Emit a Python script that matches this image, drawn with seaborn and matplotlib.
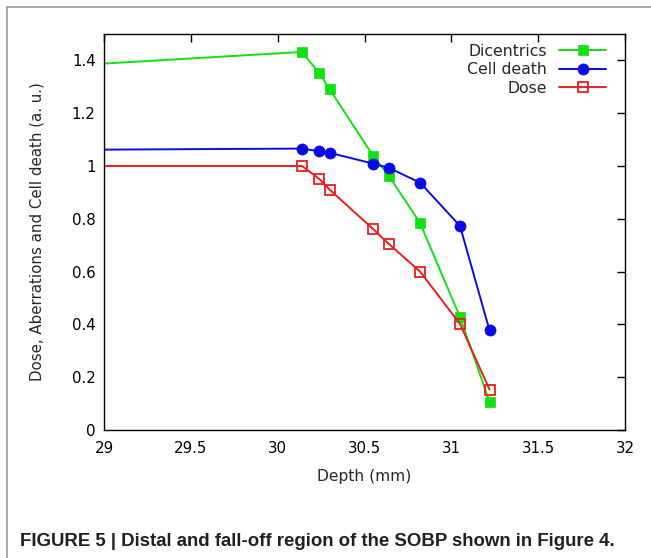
import numpy as np
import pandas as pd
import matplotlib.pyplot as plt
import seaborn as sns
from matplotlib.lines import Line2D
from matplotlib.ticker import FuncFormatter

# values
depth = [29.0, 30.14, 30.24, 30.30, 30.55, 30.64, 30.82, 31.05, 31.22]
dicentrics = [1.388, 1.432, 1.352, 1.290, 1.038, 0.963, 0.784, 0.428, 0.106]
cell_death = [1.062, 1.066, 1.056, 1.050, 1.009, 0.993, 0.937, 0.773, 0.377]
dose = [1.000, 1.000, 0.951, 0.910, 0.761, 0.705, 0.600, 0.402, 0.153]

series = ["Dicentrics", "Cell death", "Dose"]
colors = {"Dicentrics": "#11e011", "Cell death": "#0a0ae6", "Dose": "#ee1c1c"}

df = pd.DataFrame({"Depth": depth * 3,
                   "Value": dicentrics + cell_death + dose,
                   "Series": np.repeat(series, len(depth))})

sns.set_style("white")
plt.rcParams['font.family'] = ['DejaVu Sans']

fig = plt.figure(figsize=(6.51, 5.58), dpi=100)
ax = fig.add_axes([104 / 651, 1 - 430 / 558, 521 / 651, 396 / 558])

style = {
    "Dicentrics": dict(marker="s", markersize=7.5, markerfacecolor=colors["Dicentrics"],
                       markeredgecolor=colors["Dicentrics"], markeredgewidth=0.5),
    "Cell death": dict(marker="o", markersize=8, markerfacecolor=colors["Cell death"],
                       markeredgecolor=colors["Cell death"], markeredgewidth=0.5),
    "Dose": dict(marker="s", markersize=7, markerfacecolor="none",
                 markeredgecolor=colors["Dose"], markeredgewidth=1.3),
}
for s in series:
    sns.lineplot(data=df[df["Series"] == s], x="Depth", y="Value", ax=ax,
                 color=colors[s], linewidth=1.4, label=s,
                 markevery=slice(1, None), **style[s])

ax.set_xlim(29, 32)
ax.set_ylim(0, 1.5)
ax.set_xticks(np.arange(29, 32.01, 0.5))
ax.set_yticks(np.arange(0, 1.41, 0.2))
ax.xaxis.set_major_formatter(FuncFormatter(lambda v, p: f"{v:g}"))
ax.yaxis.set_major_formatter(FuncFormatter(lambda v, p: f"{round(v, 1):g}"))
ax.tick_params(direction="in", length=6, width=1, top=True, right=True,
               labelsize=10.8, colors="black", pad=6)
ax.tick_params(axis="x", pad=8)
for sp in ax.spines.values():
    sp.set_color("black")
    sp.set_linewidth(1)

ax.set_xlabel("Depth (mm)", fontsize=11.2, labelpad=9)
ax.set_ylabel("Dose, Aberrations and Cell death (a. u.)", fontsize=10.8, labelpad=20)

leg = ax.legend(loc="upper right", bbox_to_anchor=(0.964, 0.975), frameon=False,
                markerfirst=False, fontsize=11.3, handlelength=3.0, handletextpad=0.76,
                labelspacing=0.22, borderpad=0, borderaxespad=0)

# figure frame (top and left only)
fig.add_artist(Line2D([7 / 651, 1], [1 - 7 / 558, 1 - 7 / 558], color="#9a9a9a", lw=1.2))
fig.add_artist(Line2D([7 / 651, 7 / 651], [0, 1 - 7 / 558], color="#9a9a9a", lw=1.2))

fig.text(20 / 651, 1 - 541 / 558, "FIGURE 5 | Distal and fall-off region of the SOBP shown in Figure 4.",
         fontsize=13.4, fontweight="bold", family=["Liberation Sans", "DejaVu Sans"],
         color="#231f20", va="center", ha="left")

fig.savefig("out.png", dpi=100)
